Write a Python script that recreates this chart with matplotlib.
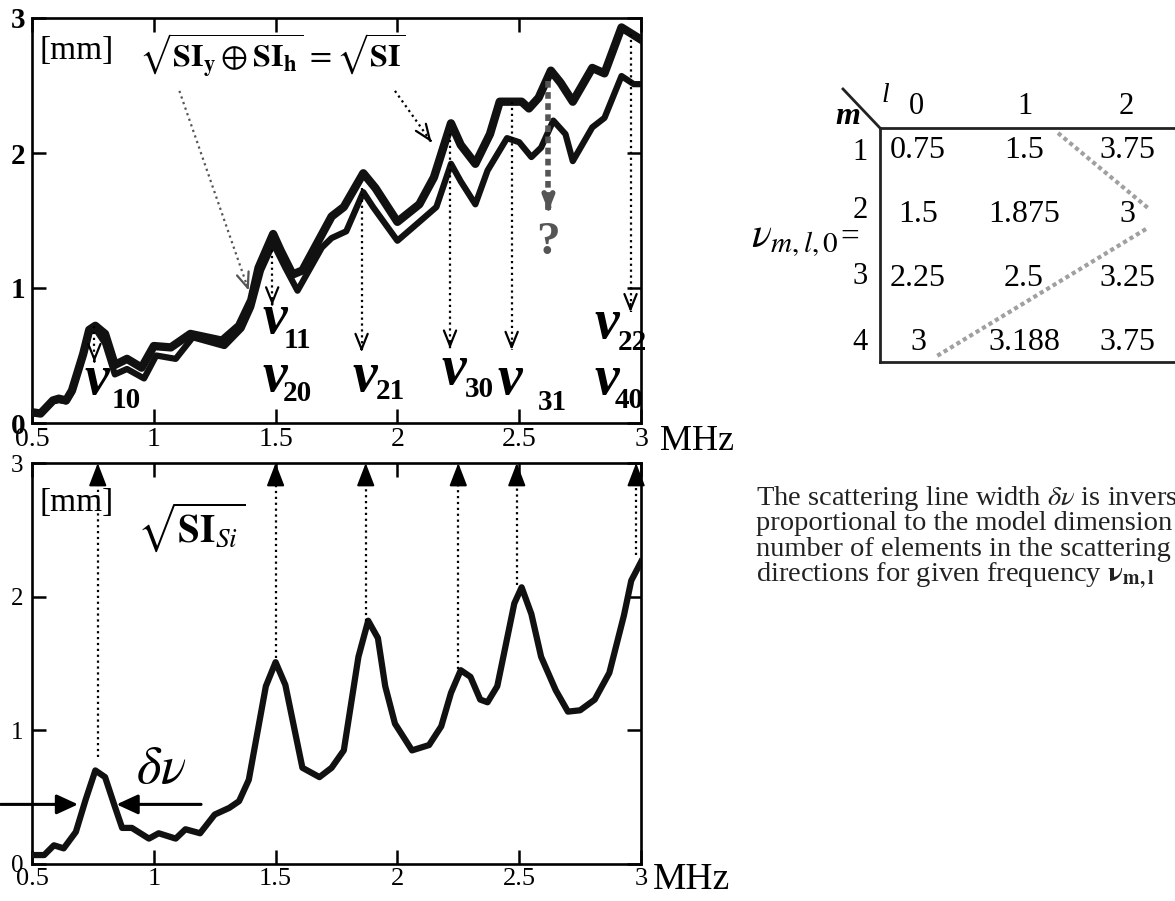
import matplotlib
matplotlib.use('Agg')
import matplotlib.pyplot as plt

plt.rcParams['font.family'] = ['Liberation Serif', 'DejaVu Serif']
plt.rcParams['mathtext.fontset'] = 'stix'

# ---------------- data ----------------
# top panel: sqrt(SI) (upper) and sqrt(SIy + SIh) (lower)
top_upper_x = [0.50, 0.535, 0.586, 0.61, 0.64, 0.664, 0.71, 0.735, 0.76, 0.80, 0.84, 0.89, 0.95, 1.00,
               1.07, 1.15, 1.28, 1.35, 1.40, 1.43, 1.49, 1.52, 1.57, 1.61, 1.73, 1.78, 1.86, 1.91,
               2.00, 2.09, 2.15, 2.22, 2.26, 2.32, 2.38, 2.42, 2.51, 2.54, 2.58, 2.63, 2.67, 2.72,
               2.80, 2.85, 2.92, 3.00]
top_upper_y = [0.08, 0.07, 0.167, 0.18, 0.167, 0.24, 0.51, 0.69, 0.72, 0.66, 0.43, 0.475, 0.41, 0.57,
               0.56, 0.66, 0.61, 0.72, 0.91, 1.15, 1.40, 1.28, 1.10, 1.13, 1.53, 1.60, 1.85, 1.74,
               1.49, 1.62, 1.82, 2.22, 2.06, 1.92, 2.14, 2.38, 2.38, 2.33, 2.41, 2.61, 2.52, 2.38,
               2.63, 2.59, 2.93, 2.84]
top_lower_x = [0.50, 0.535, 0.586, 0.61, 0.64, 0.664, 0.71, 0.735, 0.76, 0.80, 0.84, 0.89, 0.96, 1.01,
               1.09, 1.16, 1.29, 1.36, 1.40, 1.44, 1.49, 1.54, 1.59, 1.69, 1.73, 1.79, 1.86, 1.90,
               2.00, 2.09, 2.16, 2.22, 2.26, 2.32, 2.37, 2.45, 2.50, 2.55, 2.59, 2.64, 2.69, 2.72,
               2.80, 2.85, 2.92, 2.97, 3.00]
top_lower_y = [0.07, 0.07, 0.16, 0.17, 0.16, 0.23, 0.50, 0.67, 0.70, 0.59, 0.36, 0.40, 0.33, 0.50,
               0.475, 0.635, 0.57, 0.70, 0.86, 1.13, 1.33, 1.15, 0.98, 1.30, 1.37, 1.42, 1.71, 1.60,
               1.35, 1.49, 1.60, 1.92, 1.79, 1.62, 1.87, 2.11, 2.08, 1.97, 2.04, 2.24, 2.14, 1.94,
               2.19, 2.26, 2.57, 2.51, 2.51]

# bottom panel: sqrt(SI_Si)
bot_x = [0.50, 0.55, 0.59, 0.63, 0.68, 0.72, 0.76, 0.80, 0.84, 0.87, 0.91, 0.98, 1.02, 1.09, 1.13,
         1.19, 1.25, 1.31, 1.35, 1.39, 1.46, 1.50, 1.54, 1.61, 1.68, 1.73, 1.78, 1.84, 1.88, 1.92,
         1.95, 1.99, 2.06, 2.13, 2.18, 2.22, 2.26, 2.30, 2.34, 2.37, 2.41, 2.48, 2.51, 2.55, 2.59,
         2.65, 2.70, 2.75, 2.81, 2.87, 2.93, 2.96, 3.00]
bot_y = [0.067, 0.067, 0.14, 0.117, 0.24, 0.48, 0.70, 0.65, 0.43, 0.27, 0.27, 0.19, 0.23, 0.19, 0.26,
         0.23, 0.37, 0.42, 0.47, 0.63, 1.33, 1.51, 1.34, 0.72, 0.65, 0.72, 0.85, 1.55, 1.82, 1.69,
         1.33, 1.05, 0.85, 0.89, 1.03, 1.28, 1.45, 1.40, 1.23, 1.21, 1.33, 1.95, 2.07, 1.87, 1.55,
         1.30, 1.14, 1.15, 1.23, 1.43, 1.86, 2.12, 2.26]

# resonance arrows (x, start y, end y)
top_arrow_x = [0.756, 1.486, 1.853, 2.216, 2.469, 2.957]
top_arrow_y0 = [0.72, 1.28, 1.74, 2.14, 2.38, 2.88]
top_arrow_y1 = [0.45, 0.87, 0.525, 0.55, 0.54, 0.82]
bot_arrow_x = [0.77, 1.50, 1.87, 2.25, 2.49, 2.98]
bot_arrow_y0 = [0.80, 1.54, 1.82, 1.46, 2.09, 2.31]

# mode labels: (nu x, nu y, subscript, sub x, sub y)
mode_subs = ['10', '11', '20', '21', '30', '31', '22', '40']
mode_nu_x = [0.768, 1.495, 1.495, 1.867, 2.23, 2.46, 2.86, 2.86]
mode_nu_y = [0.315, 0.77, 0.34, 0.34, 0.39, 0.315, 0.73, 0.315]
mode_sub_x = [0.885, 1.59, 1.59, 1.97, 2.335, 2.635, 2.965, 2.95]
mode_sub_y = [0.167, 0.61, 0.217, 0.23, 0.25, 0.155, 0.60, 0.167]

xticks = [0.5, 1, 1.5, 2, 2.5, 3]
xtick_labels = ['0.5', '1', '1.5', '2', '2.5', '3']
yticks = [0, 1, 2, 3]
ytick_labels = ['0', '1', '2', '3']

# table of nu_{m,l,0}
table_rows = ['1', '2', '3', '4']
table_cols = ['0', '1', '2']
table_vals = [['0.75', '1.5', '3.75'],
              ['1.5', '1.875', '3'],
              ['2.25', '2.5', '3.25'],
              ['3', '3.188', '3.75']]

paragraph = [r'The scattering line width $\delta\nu$ is inversely',
             'proportional to the model dimension and',
             'number of elements in the scattering',
             r'directions for given frequency $\mathbf{\nu}_{\mathbf{m,l}}$']

# ---------------- figure ----------------
W, H = 1175, 901
fig = plt.figure(figsize=(W / 100, H / 100), dpi=100)

ax1 = fig.add_axes([32 / W, 1 - 423 / H, 609 / W, 405 / H])
ax2 = fig.add_axes([32 / W, 1 - 864 / H, 609 / W, 401 / H])

for ax in (ax1, ax2):
    ax.set_xlim(0.5, 3)
    ax.set_ylim(0, 3)
    for s in ax.spines.values():
        s.set_linewidth(1.9)
    ax.set_xticks(xticks)
    ax.set_yticks(yticks)
    ax.tick_params(direction='in', length=10, width=1.8, top=True, right=True)

ax1.set_xticklabels(xtick_labels, fontsize=20)
ax1.set_yticklabels(ytick_labels, fontsize=21, fontweight='bold')
ax1.tick_params(axis='x', pad=3)
ax1.tick_params(axis='y', pad=5)
ax2.set_xticklabels(xtick_labels, fontsize=19)
ax2.set_yticklabels(ytick_labels, fontsize=18)
ax2.tick_params(axis='x', pad=3)
ax2.tick_params(axis='y', pad=6)

# curves
ax1.plot(top_upper_x, top_upper_y, color='#111111', lw=6, solid_joinstyle='round', zorder=3)
ax1.plot(top_lower_x, top_lower_y, color='#111111', lw=4.5, solid_joinstyle='round', zorder=3)
ax2.plot(bot_x, bot_y, color='#111111', lw=4.5, solid_joinstyle='round', zorder=3)


def open_arrow(ax, x0, y0, x1, y1, color='k', lw=1.6, ls=':', ms=20):
    ax.plot([x0, x1], [y0, y1], ls=ls, color=color, lw=lw, zorder=5)
    dx, dy = (x1 - x0) * 0.03, (y1 - y0) * 0.03
    ax.annotate('', xy=(x1, y1), xytext=(x1 - dx, y1 - dy),
                arrowprops=dict(arrowstyle='->,head_length=0.55,head_width=0.22',
                                color=color, lw=lw, shrinkA=0, shrinkB=0,
                                mutation_scale=ms), zorder=6)


for x, a, b in zip(top_arrow_x, top_arrow_y0, top_arrow_y1):
    open_arrow(ax1, x, a, x, b)

# "?" arrow
open_arrow(ax1, 2.62, 2.53, 2.62, 1.57, color='#555555', lw=4, ls=(0, (1.2, 0.8)), ms=14)
ax1.text(2.62, 1.33, '?', fontsize=34, fontweight='bold', color='#555555', ha='center', va='center')

# diagonal pointers from the formula
open_arrow(ax1, 1.105, 2.46, 1.39, 0.98, color='#555555', lw=1.6)
open_arrow(ax1, 1.99, 2.46, 2.14, 2.08, color='k', lw=1.6)

ax1.text(0.53, 2.76, '[mm]', fontsize=24, ha='left', va='center')
ax1.text(0.94, 2.72, r'$\sqrt{\mathbf{SI_y}\oplus\mathbf{SI_h}}\,=\sqrt{\mathbf{SI}}$',
         fontsize=23, ha='left', va='center')

for s, nx, ny, sx, sy in zip(mode_subs, mode_nu_x, mode_nu_y, mode_sub_x, mode_sub_y):
    ax1.text(nx, ny, 'ν', fontsize=40, fontweight='bold', style='italic', ha='center', va='center', zorder=7)
    ax1.text(sx, sy, s, fontsize=21, fontweight='bold', ha='center', va='center', zorder=7)

# bottom panel annotations
for x, a in zip(bot_arrow_x, bot_arrow_y0):
    ax2.plot([x, x], [a, 2.9], ls=':', color='k', lw=1.6, zorder=5)
    ax2.annotate('', xy=(x, 3.0), xytext=(x, 2.88),
                 arrowprops=dict(arrowstyle='-|>,head_length=0.7,head_width=0.27', color='k',
                                 lw=1.5, shrinkA=0, shrinkB=0, mutation_scale=20), zorder=6)

ax2.annotate('', xy=(0.689, 0.446), xytext=(0.371, 0.446), annotation_clip=False,
             arrowprops=dict(arrowstyle='-|>,head_length=0.65,head_width=0.3', color='k',
                             lw=2.2, shrinkA=0, shrinkB=0, mutation_scale=20))
ax2.annotate('', xy=(0.847, 0.446), xytext=(1.194, 0.446),
             arrowprops=dict(arrowstyle='-|>,head_length=0.65,head_width=0.3', color='k',
                             lw=2.2, shrinkA=0, shrinkB=0, mutation_scale=20))
ax2.text(1.03, 0.70, r'$\delta\nu$', fontsize=38, ha='center', va='center')
ax2.text(0.53, 2.70, '[mm]', fontsize=24, ha='left', va='center')
ax2.text(0.93, 2.52, r'$\sqrt{\mathbf{SI}_{Si}}$', fontsize=28, ha='left', va='center')

# MHz labels
fig.text(660 / W, 1 - 441 / H, 'MHz', fontsize=26, ha='left', va='center')
fig.text(653 / W, 1 - 880 / H, 'MHz', fontsize=27, ha='left', va='center')

# ---------------- overlay for table and paragraph ----------------
ov = fig.add_axes([0, 0, 1, 1], zorder=10)
ov.set_xlim(0, W)
ov.set_ylim(H, 0)
ov.axis('off')
ov.patch.set_alpha(0)

tx0, ty0, ty1 = 880, 128, 362
ov.plot([tx0, tx0], [ty0, ty1], color='#222222', lw=2)
ov.plot([tx0, W + 5], [ty0, ty0], color='#222222', lw=2)
ov.plot([tx0, W + 5], [ty1, ty1], color='#222222', lw=2)
ov.plot([843, tx0], [89, ty0], color='#222222', lw=2)
ov.plot([1058, 1148], [133, 208], color='#a0a0a0', lw=3, ls=(0, (1, 0.8)))
ov.plot([1146, 937], [229, 356], color='#a0a0a0', lw=3, ls=(0, (1, 0.8)))

col_x = [918, 1024, 1127]
row_y = [150, 214, 279, 343]
row_label_y = [152, 211, 277, 342]
for c, cx in zip(table_cols, [916, 1025, 1126]):
    ov.text(cx, 107, c, fontsize=22, ha='center', va='center')
ov.text(885, 96, 'l', fontsize=20, style='italic', ha='center', va='center')
ov.text(848, 116, 'm', fontsize=23, style='italic', fontweight='bold', ha='center', va='center')
for r, ry in zip(table_rows, row_label_y):
    ov.text(868, ry, r, fontsize=22, ha='right', va='center')
for vals, ry in zip(table_vals, row_y):
    for v, cx in zip(vals, col_x):
        ov.text(cx, ry, v, fontsize=23, ha='center', va='center')
ov.text(795, 240, r'$\nu_{m,l,0}$', fontsize=30, ha='center', va='center')
ov.text(850, 238, '=', fontsize=24, ha='center', va='center')

for line, by in zip(paragraph, [505, 530, 556, 582]):
    ov.text(756, by, line, fontsize=20.5, ha='left', va='baseline', color='#222222')

fig.savefig('out.png', dpi=100)
